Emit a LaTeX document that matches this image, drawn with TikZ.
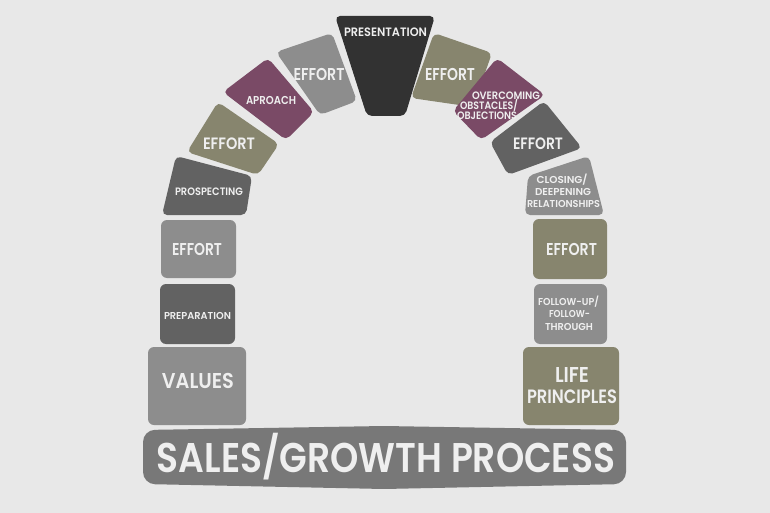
\documentclass[tikz,border=0pt]{standalone}
\usepackage{fontspec}
\setmainfont{Poppins}[BoldFont={* SemiBold}]
\usepackage{graphicx}
\definecolor{bgc}{HTML}{E8E8E8}
\definecolor{lgray}{HTML}{8D8D8D}
\definecolor{dgray}{HTML}{626262}
\definecolor{olive}{HTML}{87856E}
\definecolor{purp}{HTML}{7A4A66}
\definecolor{blk}{HTML}{323232}
\definecolor{barc}{HTML}{787878}
\definecolor{txtc}{HTML}{EFEFEF}
\newcommand\fitt[3]{\resizebox{#1pt}{#2pt}{\bfseries\smash{#3}\vphantom{E}}}
\tikzset{
  blockshape/.style={rounded corners=5pt},
  colbox/.style={rounded corners=6pt},
  lbl/.style={inner sep=0pt, text=txtc, anchor=center}
}
\begin{document}
\begin{tikzpicture}[x=1pt,y=-1pt]
\useasboundingbox (0,0) rectangle (770,513);
\fill[bgc] (0,0) rectangle (770,513);
% arch blocks
\fill[blk,blockshape] (335,16) -- (435,16) -- (405,116) -- (367,116) -- cycle;
\fill[lgray,blockshape] (276,52) -- (332,33) -- (357,101) -- (320,115) -- cycle;
\fill[purp,blockshape] (268,58) -- (314,112) -- (286,140) -- (223,92) -- cycle;
\fill[olive,blockshape] (218,102) -- (279,144) -- (258,175) -- (187,152) -- cycle;
\fill[dgray,blockshape] (176,156) -- (252,176) -- (246,215) -- (162,215) -- cycle;
\fill[olive,blockshape] (434,33) -- (492,53) -- (473,107) -- (411,98) -- cycle;
\fill[purp,blockshape] (497,58) -- (545,95) -- (481,140) -- (453,111) -- cycle;
\fill[dgray,blockshape] (544,101) -- (582,148) -- (508,175) -- (490,142) -- cycle;
\fill[lgray,blockshape] (528,176) -- (589,156) -- (604,215) -- (525,215) -- cycle;
% columns
\fill[lgray,colbox] (161,220) rectangle (236,278);
\fill[dgray,colbox] (160,284) rectangle (235,344);
\fill[lgray,colbox] (148,347) rectangle (246,425);
\fill[olive,colbox] (533,219) rectangle (607,279);
\fill[lgray,colbox] (534,284) rectangle (607,344);
\fill[olive,colbox] (523,347) rectangle (619,425);
% base bar
\fill[barc,rounded corners=12pt] (143,430) -- (384,426) -- (626,430) -- (626,484) -- (384,489) -- (143,484) -- cycle;
% labels
\node[lbl] (t1) at (385.5,32.5) {\fitt{83}{8.5}{PRESENTATION}};
\node[lbl] (t2) at (319,75) {\fitt{51}{12}{EFFORT}};
\node[lbl] (t3) at (271,101) {\fitt{50}{8}{APROACH}};
\node[lbl] (t4) at (229,143.5) {\fitt{52}{11.5}{EFFORT}};
\node[lbl] (t5) at (209,191.5) {\fitt{68}{7.5}{PROSPECTING}};
\node[lbl] (t6) at (450,75) {\fitt{50}{12}{EFFORT}};
\node[lbl] (t7a) at (506,95.5) {\fitt{68}{7.5}{OVERCOMING}};
\node[lbl] (t7b) at (489,105.5) {\fitt{58}{7.5}{OBSTACLES/}};
\node[lbl] (t7c) at (487,116) {\fitt{60}{7.5}{OBJECTIONS}};
\node[lbl] (t8) at (538,143.5) {\fitt{50}{11.5}{EFFORT}};
\node[lbl] (t9a) at (562,179.5) {\fitt{51}{7}{CLOSING/}};
\node[lbl] (t9b) at (563,192) {\fitt{56}{7}{DEEPENING}};
\node[lbl] (t9c) at (563.5,203.5) {\fitt{73}{7}{RELATIONSHIPS}};
\node[lbl] (t10) at (197,249) {\fitt{50}{12}{EFFORT}};
\node[lbl] (t11) at (197.5,315.5) {\fitt{67}{7}{PREPARATION}};
\node[lbl] (t12) at (198,380.5) {\fitt{72}{15}{VALUES}};
\node[lbl] (t13) at (571.5,249) {\fitt{51}{12}{EFFORT}};
\node[lbl] (t14a) at (568.5,302) {\fitt{61}{7}{FOLLOW-UP/}};
\node[lbl] (t14b) at (569.5,314) {\fitt{41}{7}{FOLLOW-}};
\node[lbl] (t14c) at (569,327) {\fitt{48}{7}{THROUGH}};
\node[lbl] (t15a) at (572,374.5) {\fitt{34}{15}{LIFE}};
\node[lbl] (t15b) at (572,396.5) {\fitt{90}{13.5}{PRINCIPLES}};
\node[lbl] (t16) at (386,457.5) {\fitt{458}{29}{SALES/GROWTH PROCESS}};
\end{tikzpicture}
\end{document}
